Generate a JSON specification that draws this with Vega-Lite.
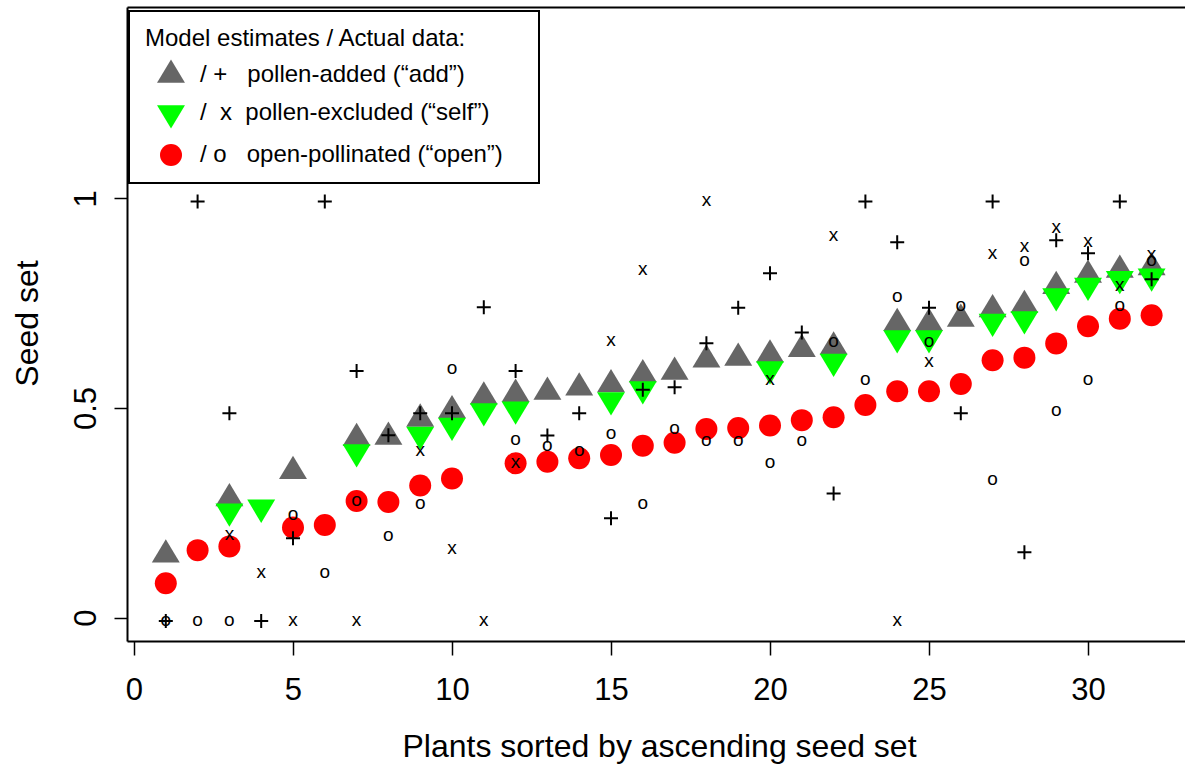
{
  "$schema": "https://vega.github.io/schema/vega-lite/v6.json",
  "width": 1058,
  "height": 634,
  "autosize": {"type": "none"},
  "padding": {"left": 127, "top": 7, "right": 0, "bottom": 124},
  "background": "white",
  "data": {"values": [
    {"plant": 1, "treatment": "add", "estimate": 0.150, "observed": 0},
    {"plant": 1, "treatment": "open", "estimate": 0.082, "observed": 0},
    {"plant": 2, "treatment": "add", "estimate": null, "observed": 1.0},
    {"plant": 2, "treatment": "open", "estimate": 0.161, "observed": 0},
    {"plant": 3, "treatment": "add", "estimate": 0.284, "observed": 0.495},
    {"plant": 3, "treatment": "self", "estimate": 0.254, "observed": 0.205},
    {"plant": 3, "treatment": "open", "estimate": 0.170, "observed": 0},
    {"plant": 4, "treatment": "add", "estimate": null, "observed": 0},
    {"plant": 4, "treatment": "self", "estimate": 0.263, "observed": 0.114},
    {"plant": 5, "treatment": "add", "estimate": 0.349, "observed": 0.197},
    {"plant": 5, "treatment": "self", "estimate": null, "observed": 0},
    {"plant": 5, "treatment": "open", "estimate": 0.215, "observed": 0.253},
    {"plant": 6, "treatment": "add", "estimate": null, "observed": 1.0},
    {"plant": 6, "treatment": "open", "estimate": 0.221, "observed": 0.114},
    {"plant": 7, "treatment": "add", "estimate": 0.428, "observed": 0.596},
    {"plant": 7, "treatment": "self", "estimate": 0.395, "observed": 0},
    {"plant": 7, "treatment": "open", "estimate": 0.278, "observed": 0.286},
    {"plant": 8, "treatment": "add", "estimate": 0.431, "observed": 0.443},
    {"plant": 8, "treatment": "open", "estimate": 0.276, "observed": 0.203},
    {"plant": 9, "treatment": "add", "estimate": 0.474, "observed": 0.495},
    {"plant": 9, "treatment": "self", "estimate": 0.437, "observed": 0.404},
    {"plant": 9, "treatment": "open", "estimate": 0.315, "observed": 0.278},
    {"plant": 10, "treatment": "add", "estimate": 0.494, "observed": 0.495},
    {"plant": 10, "treatment": "self", "estimate": 0.458, "observed": 0.172},
    {"plant": 10, "treatment": "open", "estimate": 0.332, "observed": 0.600},
    {"plant": 11, "treatment": "add", "estimate": 0.527, "observed": 0.748},
    {"plant": 11, "treatment": "self", "estimate": 0.493, "observed": 0},
    {"plant": 12, "treatment": "add", "estimate": 0.533, "observed": 0.596},
    {"plant": 12, "treatment": "self", "estimate": 0.497, "observed": 0.375},
    {"plant": 12, "treatment": "open", "estimate": 0.368, "observed": 0.430},
    {"plant": 13, "treatment": "add", "estimate": 0.538, "observed": 0.442},
    {"plant": 13, "treatment": "open", "estimate": 0.372, "observed": 0.416},
    {"plant": 14, "treatment": "add", "estimate": 0.548, "observed": 0.495},
    {"plant": 14, "treatment": "open", "estimate": 0.380, "observed": 0.404},
    {"plant": 15, "treatment": "add", "estimate": 0.556, "observed": 0.245},
    {"plant": 15, "treatment": "self", "estimate": 0.519, "observed": 0.666},
    {"plant": 15, "treatment": "open", "estimate": 0.388, "observed": 0.446},
    {"plant": 16, "treatment": "add", "estimate": 0.580, "observed": 0.551},
    {"plant": 16, "treatment": "self", "estimate": 0.545, "observed": 0.837},
    {"plant": 16, "treatment": "open", "estimate": 0.410, "observed": 0.278},
    {"plant": 17, "treatment": "add", "estimate": 0.586, "observed": 0.557},
    {"plant": 17, "treatment": "open", "estimate": 0.417, "observed": 0.457},
    {"plant": 18, "treatment": "add", "estimate": 0.615, "observed": 0.662},
    {"plant": 18, "treatment": "self", "estimate": null, "observed": 1.0},
    {"plant": 18, "treatment": "open", "estimate": 0.450, "observed": 0.429},
    {"plant": 19, "treatment": "add", "estimate": 0.619, "observed": 0.747},
    {"plant": 19, "treatment": "open", "estimate": 0.452, "observed": 0.429},
    {"plant": 20, "treatment": "add", "estimate": 0.627, "observed": 0.829},
    {"plant": 20, "treatment": "self", "estimate": 0.593, "observed": 0.573},
    {"plant": 20, "treatment": "open", "estimate": 0.458, "observed": 0.377},
    {"plant": 21, "treatment": "add", "estimate": 0.640, "observed": 0.688},
    {"plant": 21, "treatment": "open", "estimate": 0.471, "observed": 0.429},
    {"plant": 22, "treatment": "add", "estimate": 0.646, "observed": 0.304},
    {"plant": 22, "treatment": "self", "estimate": 0.611, "observed": 0.916},
    {"plant": 22, "treatment": "open", "estimate": 0.478, "observed": 0.664},
    {"plant": 23, "treatment": "add", "estimate": null, "observed": 1.0},
    {"plant": 23, "treatment": "open", "estimate": 0.507, "observed": 0.573},
    {"plant": 24, "treatment": "add", "estimate": 0.702, "observed": 0.903},
    {"plant": 24, "treatment": "self", "estimate": 0.667, "observed": 0},
    {"plant": 24, "treatment": "open", "estimate": 0.540, "observed": 0.771},
    {"plant": 25, "treatment": "add", "estimate": 0.702, "observed": 0.747},
    {"plant": 25, "treatment": "self", "estimate": 0.667, "observed": 0.616},
    {"plant": 25, "treatment": "open", "estimate": 0.540, "observed": 0.664},
    {"plant": 26, "treatment": "add", "estimate": 0.712, "observed": 0.495},
    {"plant": 26, "treatment": "open", "estimate": 0.557, "observed": 0.751},
    {"plant": 27, "treatment": "add", "estimate": 0.735, "observed": 1.0},
    {"plant": 27, "treatment": "self", "estimate": 0.706, "observed": 0.875},
    {"plant": 27, "treatment": "open", "estimate": 0.614, "observed": 0.336},
    {"plant": 28, "treatment": "add", "estimate": 0.745, "observed": 0.164},
    {"plant": 28, "treatment": "self", "estimate": 0.712, "observed": 0.892},
    {"plant": 28, "treatment": "open", "estimate": 0.620, "observed": 0.857},
    {"plant": 29, "treatment": "add", "estimate": 0.790, "observed": 0.908},
    {"plant": 29, "treatment": "self", "estimate": 0.767, "observed": 0.936},
    {"plant": 29, "treatment": "open", "estimate": 0.654, "observed": 0.499},
    {"plant": 30, "treatment": "add", "estimate": 0.817, "observed": 0.877},
    {"plant": 30, "treatment": "self", "estimate": 0.792, "observed": 0.904},
    {"plant": 30, "treatment": "open", "estimate": 0.695, "observed": 0.573},
    {"plant": 31, "treatment": "add", "estimate": 0.829, "observed": 1.0},
    {"plant": 31, "treatment": "self", "estimate": 0.808, "observed": 0.799},
    {"plant": 31, "treatment": "open", "estimate": 0.713, "observed": 0.751},
    {"plant": 32, "treatment": "add", "estimate": 0.835, "observed": 0.815},
    {"plant": 32, "treatment": "self", "estimate": 0.814, "observed": 0.873},
    {"plant": 32, "treatment": "open", "estimate": 0.721, "observed": 0.857}
  ]},
  "layer": [
    {
      "mark": {"type": "point", "filled": true, "size": 484, "opacity": 1, "strokeWidth": 0},
      "encoding": {
        "x": {"field": "plant", "type": "quantitative",
              "scale": {"domain": [-0.22, 33.05], "nice": false, "zero": false},
              "axis": {"orient": "bottom", "values": [0, 5, 10, 15, 20, 25, 30], "format": "d",
                       "title": "Plants sorted by ascending seed set",
                       "titleX": 532, "titleY": 115, "titleAlign": "center", "titleBaseline": "alphabetic",
                       "labelPadding": 20, "tickSize": 14, "labelFlush": false, "labelOverlap": false}},
        "y": {"field": "estimate", "type": "quantitative", "title": "Seed set",
              "scale": {"domain": [-0.0556, 1.456], "nice": false, "zero": false},
              "axis": {"orient": "left", "values": [0, 0.5, 1], "format": ".1~f",
                       "labelAngle": -90, "labelAlign": "center", "labelBaseline": "bottom",
                       "labelPadding": 12, "tickSize": 13, "labelFlush": false, "labelOverlap": false,
                       "title": "Seed set", "titleAngle": -90, "titleX": -90, "titleY": 316,
                       "titleAlign": "center", "titleBaseline": "alphabetic"}},
        "fill": {"field": "treatment", "type": "nominal",
                 "scale": {"domain": ["add", "self", "open"], "range": ["#666666", "#00ff00", "#ff0000"]},
                 "legend": {"title": "Model estimates / Actual data:", "orient": "none", "legendX": 2, "legendY": 4,
                            "labelExpr": "datum.label == 'add' ? '/ +\u00a0\u00a0\u00a0pollen-added (“add”)' : datum.label == 'self' ? '/\u00a0\u00a0x\u00a0\u00a0pollen-excluded (“self”)' : '/ o\u00a0\u00a0\u00a0open-pollinated (“open”)\u00a0\u00a0\u00a0\u200b'"}},
        "shape": {"field": "treatment", "type": "nominal",
                  "scale": {"domain": ["add", "self", "open"], "range": ["M0,-1.41L1.27,0.705L-1.27,0.705Z", "M0,1.41L1.27,-0.705L-1.27,-0.705Z", "circle"]},
                  "legend": {"title": "Model estimates / Actual data:", "orient": "none", "legendX": 2, "legendY": 4,
                            "labelExpr": "datum.label == 'add' ? '/ +\u00a0\u00a0\u00a0pollen-added (“add”)' : datum.label == 'self' ? '/\u00a0\u00a0x\u00a0\u00a0pollen-excluded (“self”)' : '/ o\u00a0\u00a0\u00a0open-pollinated (“open”)\u00a0\u00a0\u00a0\u200b'"}}
      }
    },
    {
      "transform": [{"filter": "datum.treatment == 'add'"}],
      "mark": {"type": "point", "filled": false, "stroke": "black", "strokeWidth": 2, "opacity": 1, "size": 196,
               "shape": "M-1,0.47L1,0.47M0,-0.53L0,1.47"},
      "encoding": {
        "x": {"field": "plant", "type": "quantitative",
              "scale": {"domain": [-0.22, 33.05], "nice": false, "zero": false},
              "axis": {"orient": "top", "labels": false, "ticks": false, "domain": true, "title": null, "grid": false}},
        "y": {"field": "observed", "type": "quantitative", "title": "Seed set"}
      }
    },
    {
      "transform": [{"filter": "datum.treatment == 'self'"}],
      "mark": {"type": "text", "text": "x", "font": "Liberation Sans", "fontSize": 19, "color": "black",
               "align": "center", "baseline": "middle", "dy": 2},
      "encoding": {
        "x": {"field": "plant", "type": "quantitative", "axis": null},
        "y": {"field": "observed", "type": "quantitative", "title": "Seed set"}
      }
    },
    {
      "transform": [{"filter": "datum.treatment == 'open'"}],
      "mark": {"type": "text", "text": "o", "font": "Liberation Sans", "fontSize": 19, "color": "black",
               "align": "center", "baseline": "middle", "dy": 2},
      "encoding": {
        "x": {"field": "plant", "type": "quantitative", "axis": null},
        "y": {"field": "observed", "type": "quantitative", "title": "Seed set"}
      }
    }
  ],
  "resolve": {"axis": {"x": "independent"}},
  "config": {
    "font": "Liberation Sans",
    "view": {"stroke": null},
    "axis": {"labelFont": "Liberation Sans", "labelFontSize": 31, "labelColor": "black",
             "titleFont": "Liberation Sans", "titleFontSize": 32, "titleFontWeight": "normal", "titleColor": "black",
             "tickColor": "black", "tickWidth": 1.5, "domainColor": "black", "domainWidth": 2, "grid": false},
    "legend": {"padding": 16, "strokeColor": "black", "strokeWidth": 2, "fillColor": "white",
               "titleFont": "Liberation Sans", "titleFontSize": 24, "titleFontWeight": "normal", "titleColor": "black",
               "titlePadding": 12, "titleLimit": 600,
               "labelFont": "Liberation Sans", "labelFontSize": 24, "labelColor": "black", "labelLimit": 600,
               "labelOffset": 17, "symbolOffset": 14, "symbolSize": 484, "symbolStrokeWidth": 0, "rowPadding": 14}
  }
}
